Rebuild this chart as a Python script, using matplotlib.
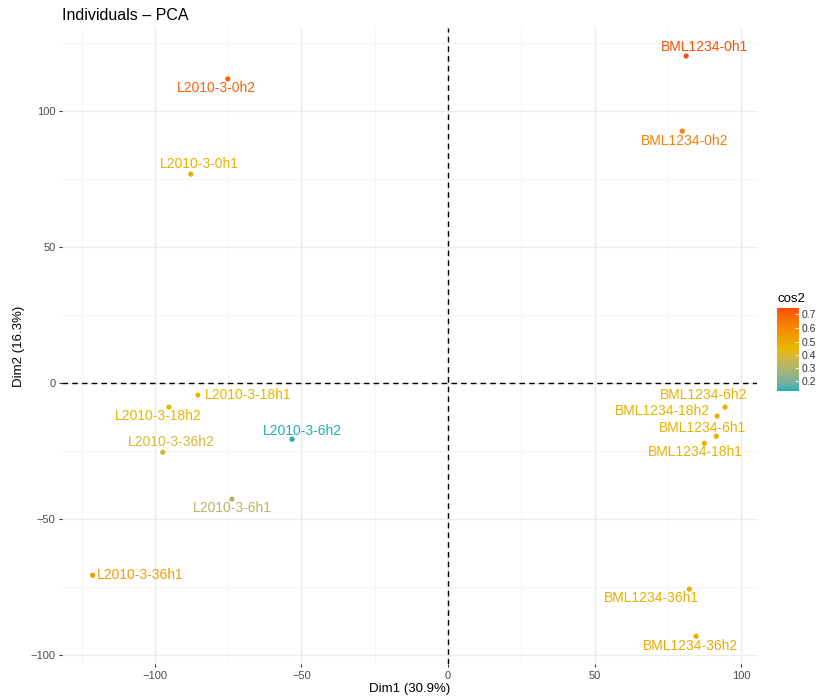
import numpy as np
import matplotlib
import matplotlib.pyplot as plt
from matplotlib.colors import ListedColormap, TwoSlopeNorm, to_rgb

plt.rcParams['font.family'] = ['Liberation Sans', 'DejaVu Sans']

# individuals (sample names), PCA coordinates and cos2 quality
names = ["BML1234-0h1", "BML1234-0h2", "L2010-3-0h2", "L2010-3-0h1",
         "L2010-3-18h1", "L2010-3-18h2", "L2010-3-36h2", "L2010-3-6h2",
         "L2010-3-6h1", "L2010-3-36h1", "BML1234-6h2", "BML1234-18h2",
         "BML1234-6h1", "BML1234-18h1", "BML1234-36h1", "BML1234-36h2"]
dim1 = [81.2, 79.9, -75.1, -87.7, -85.3, -95.2, -97.3, -53.2,
        -73.7, -121.2, 94.5, 91.8, 91.5, 87.4, 82.3, 84.6]
dim2 = [120.2, 92.6, 111.8, 76.8, -4.4, -8.8, -25.4, -20.6,
        -42.6, -70.6, -8.8, -12.1, -19.5, -22.1, -75.7, -93.0]
cos2 = [0.74, 0.62, 0.70, 0.47, 0.45, 0.45, 0.40, 0.13,
        0.32, 0.54, 0.46, 0.46, 0.46, 0.46, 0.48, 0.49]

# label offsets in pixels (repel-like placement)
offsets = [(18, 9), (2, -10), (-11, -9), (8, 10), (50, 0), (-11, -9), (9, 10), (10, 8),
           (0, -9), (48, 0), (-21, 12), (-55, 5), (-14, 8), (-9, -9), (-38, -9), (-6, -10)]


# ggplot-like gradient: interpolate in CIE Lab space
def srgb_to_lab(c):
    c = np.array(c)
    lin = np.where(c <= 0.04045, c / 12.92, ((c + 0.055) / 1.055) ** 2.4)
    M = np.array([[0.4124, 0.3576, 0.1805], [0.2126, 0.7152, 0.0722], [0.0193, 0.1192, 0.9505]])
    xyz = M @ lin / np.array([0.95047, 1.0, 1.08883])
    f = np.where(xyz > 0.008856, np.cbrt(xyz), 7.787 * xyz + 16 / 116)
    return np.array([116 * f[1] - 16, 500 * (f[0] - f[1]), 200 * (f[1] - f[2])])


def lab_to_srgb(lab):
    fy = (lab[0] + 16) / 116
    fx = fy + lab[1] / 500
    fz = fy - lab[2] / 200
    f = np.array([fx, fy, fz])
    xyz = np.where(f ** 3 > 0.008856, f ** 3, (f - 16 / 116) / 7.787) * np.array([0.95047, 1.0, 1.08883])
    Minv = np.array([[3.2406, -1.5372, -0.4986], [-0.9689, 1.8758, 0.0415], [0.0557, -0.2040, 1.0570]])
    lin = Minv @ xyz
    c = np.where(lin <= 0.0031308, 12.92 * lin, 1.055 * np.clip(lin, 0, None) ** (1 / 2.4) - 0.055)
    return np.clip(c, 0, 1)


anchors = [srgb_to_lab(to_rgb(h)) for h in ["#00AFBB", "#E7B800", "#FC4E07"]]
cols = []
for a, b in [(anchors[0], anchors[1]), (anchors[1], anchors[2])]:
    for t in np.linspace(0, 1, 128):
        cols.append(lab_to_srgb(a + (b - a) * t))
cmap = ListedColormap(cols)
norm = TwoSlopeNorm(vmin=0.125, vcenter=0.44, vmax=0.745)

fig = plt.figure(figsize=(8.25, 7), dpi=100)
ax = fig.add_axes([0.075, 0.051, 0.843, 0.909])

for sp in ax.spines.values():
    sp.set_visible(False)
ax.set_facecolor("white")

ax.set_xlim(-131.7, 105.5)
ax.set_ylim(-103.3, 130.5)
ax.set_xticks([-100, -50, 0, 50, 100])
ax.set_yticks([-100, -50, 0, 50, 100])
ax.set_xticks([-125, -75, -25, 25, 75], minor=True)
ax.set_yticks([-75, -25, 25, 75, 125], minor=True)
ax.set_xticklabels(["\u2212100", "\u221250", "0", "50", "100"])
ax.set_yticklabels(["\u2212100", "\u221250", "0", "50", "100"])
ax.grid(True, which="major", color="#EBEBEB", linewidth=1.0)
ax.grid(True, which="minor", color="#F3F3F3", linewidth=0.6)
ax.set_axisbelow(True)
ax.tick_params(which="major", length=2.5, width=0.8, color="#333333",
               labelsize=8, labelcolor="#4D4D4D", pad=2)
ax.tick_params(which="minor", length=0)

ax.axhline(0, color="black", linestyle=(0, (4, 3)), linewidth=1.0, zorder=1)
ax.axvline(0, color="black", linestyle=(0, (4, 3)), linewidth=1.0, zorder=1)

sc = ax.scatter(dim1, dim2, c=cos2, cmap=cmap, norm=norm, s=14, zorder=3, linewidths=0)

for i, name in enumerate(names):
    ax.annotate(name, (dim1[i], dim2[i]), xytext=offsets[i], textcoords="offset pixels",
                ha="center", va="center", fontsize=10, color=cmap(norm(cos2[i])))

ax.set_xlabel("Dim1 (30.9%)", fontsize=9.5, labelpad=2)
ax.set_ylabel("Dim2 (16.3%)", fontsize=9.5, labelpad=4)
fig.text(0.075, 0.978, "Individuals \u2013 PCA", fontsize=11.5, ha="left", va="center")

cax = fig.add_axes([0.942, 0.441, 0.0267, 0.1186])
cb = fig.colorbar(sc, cax=cax)
cb.outline.set_visible(False)
cb.set_ticks([0.2, 0.3, 0.4, 0.5, 0.6, 0.7])
cb.ax.tick_params(labelsize=7.5, length=3, color="white", width=0.6, direction="in",
                  labelcolor="#333333", pad=2)
fig.text(0.943, 0.565, "cos2", fontsize=9.5, ha="left", va="bottom")

fig.savefig("out.png", dpi=100)
